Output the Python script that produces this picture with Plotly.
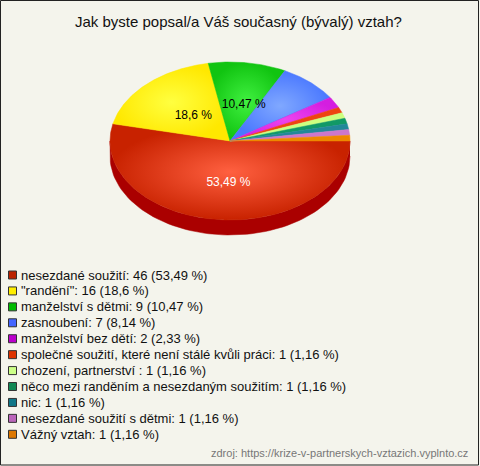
import numpy as np
import plotly.graph_objects as go

# ---------------- data ----------------
title = "Jak byste popsal/a Váš současný (bývalý) vztah?"
source = "zdroj: https://krize-v-partnerskych-vztazich.vyplnto.cz"
categories = [
    "nesezdané soužití",
    "\"randění\"",
    "manželství s dětmi",
    "zasnoubení",
    "manželství bez dětí",
    "společné soužití, které není stálé kvůli práci",
    "chození, partnerství ",
    "něco mezi randěním a nesezdaným soužitím",
    "nic",
    "nesezdané soužití s dětmi",
    "Vážný vztah",
]
counts = [46, 16, 9, 7, 2, 1, 1, 1, 1, 1, 1]
edge_colors = ["#c82200", "#ffe800", "#11c411", "#4a78ff", "#d41ee0", "#ee4411",
               "#ccff80", "#119966", "#228899", "#cc77cc", "#ee8800"]
center_colors = ["#ff6040", "#ffff40", "#40f040", "#80a8ff", "#ee44ee", "#ee4411",
                 "#ccff80", "#119966", "#228899", "#cc77cc", "#ee8800"]
legend_colors = ["#bb2200", "#ffee00", "#00bb00", "#4466ff", "#bb00cc", "#dd3300",
                 "#ccff88", "#118855", "#117788", "#bb66bb", "#dd7700"]

# ---------------- layout constants ----------------
W, H = 480, 466
CX, CY, RX, RY, DEPTH = 230, 141, 120, 79, 15
BG = "#f4f4ec"
FONT = "Liberation Sans, Arial, sans-serif"
LABEL_R = 0.5


def darken(hexc, f=0.8):
    hexc = hexc.lstrip("#")
    r, g, b = (int(hexc[i:i + 2], 16) for i in (0, 2, 4))
    return "#%02x%02x%02x" % (int(r * f), int(g * f), int(b * f))


def fmt(p):
    s = f"{round(p, 2):g}"
    return s.replace(".", ",")


total = sum(counts)
pcts = [c / total * 100 for c in counts]
ends = np.cumsum(counts) / total * 360.0
starts = np.concatenate([[0.0], ends[:-1]])

fig = go.Figure()

# side wall (front half: angles 0..180 clockwise from 3 o'clock, screen y down)
for i in range(len(counts)):
    a, b = max(starts[i], 0.0), min(ends[i], 180.0)
    if b <= a:
        continue
    th = np.radians(np.linspace(a, b, 80))
    xt = CX + RX * np.cos(th)
    yt = CY + RY * np.sin(th)
    xs = np.concatenate([xt, xt[::-1]])
    ys = np.concatenate([yt, (yt + DEPTH)[::-1]])
    col = "#aa0000" if i == 0 else darken(edge_colors[i], 0.75)
    fig.add_trace(go.Scatter(x=xs, y=ys, mode="lines", fill="toself",
                             fillcolor=col, line=dict(color=col, width=0.5),
                             hoverinfo="skip", showlegend=False))

# top faces
for i in range(len(counts)):
    n = max(int((ends[i] - starts[i]) * 1.5), 6)
    th = np.radians(np.linspace(starts[i], ends[i], n))
    xs = np.concatenate([[CX], CX + RX * np.cos(th), [CX]])
    ys = np.concatenate([[CY], CY + RY * np.sin(th), [CY]])
    fig.add_trace(go.Scatter(
        x=xs, y=ys, mode="lines", fill="toself",
        fillgradient=dict(type="radial",
                          colorscale=[[0, center_colors[i]], [1, edge_colors[i]]]),
        line=dict(color=edge_colors[i], width=0.5),
        hoverinfo="skip", showlegend=False))

# percentage labels on slices >= 10 %
lx, ly, lt, lc = [], [], [], []
for i, p in enumerate(pcts):
    if p < 10:
        continue
    mid = np.radians((starts[i] + ends[i]) / 2)
    lx.append(CX + RX * LABEL_R * np.cos(mid) + 5)
    ly.append(CY + RY * LABEL_R * np.sin(mid) + 3)
    lt.append(fmt(p) + " %")
    lc.append("#ffffff" if i == 0 else "#000000")
fig.add_trace(go.Scatter(x=lx, y=ly, mode="text", text=lt,
                         textfont=dict(family=FONT, size=12, color=lc),
                         hoverinfo="skip", showlegend=False))

# legend
LEG_X, LEG_Y0, LEG_DY = 12.5, 275, 15.93
leg_y = [LEG_Y0 + LEG_DY * i for i in range(len(counts))]
fig.add_trace(go.Scatter(
    x=[LEG_X] * len(counts), y=leg_y, mode="markers",
    marker=dict(symbol="square", size=8, color=legend_colors,
                line=dict(color="#333333", width=1)),
    hoverinfo="skip", showlegend=False))
annotations = []
for i, (cat, c, p) in enumerate(zip(categories, counts, pcts)):
    annotations.append(dict(
        x=19, y=leg_y[i], xref="x", yref="y", xanchor="left", yanchor="middle",
        text=f"{cat}: {c} ({fmt(p)} %)", showarrow=False,
        font=dict(family=FONT, size=13, color="#111111")))

annotations.append(dict(x=238, y=21, xref="x", yref="y", xanchor="center",
                        yanchor="middle", text=title, showarrow=False,
                        font=dict(family=FONT, size=15, color="#111111")))
annotations.append(dict(x=470, y=453, xref="x", yref="y", xanchor="right",
                        yanchor="middle", text=source, showarrow=False,
                        font=dict(family=FONT, size=11, color="#777777")))

shapes = [dict(type="rect", xref="x", yref="y", x0=0.5, y0=0.5, x1=478.5, y1=465,
               line=dict(color="#222222", width=1), fillcolor="rgba(0,0,0,0)")]

fig.update_layout(
    width=W, height=H, margin=dict(l=0, r=0, t=0, b=0),
    paper_bgcolor=BG, plot_bgcolor=BG,
    xaxis=dict(range=[0, W], visible=False, fixedrange=True),
    yaxis=dict(range=[H, 0], visible=False, fixedrange=True),
    annotations=annotations, shapes=shapes, showlegend=False,
)

fig.write_html("out.html", config={"displayModeBar": False},
               post_script="document.body.style.margin='0';")
